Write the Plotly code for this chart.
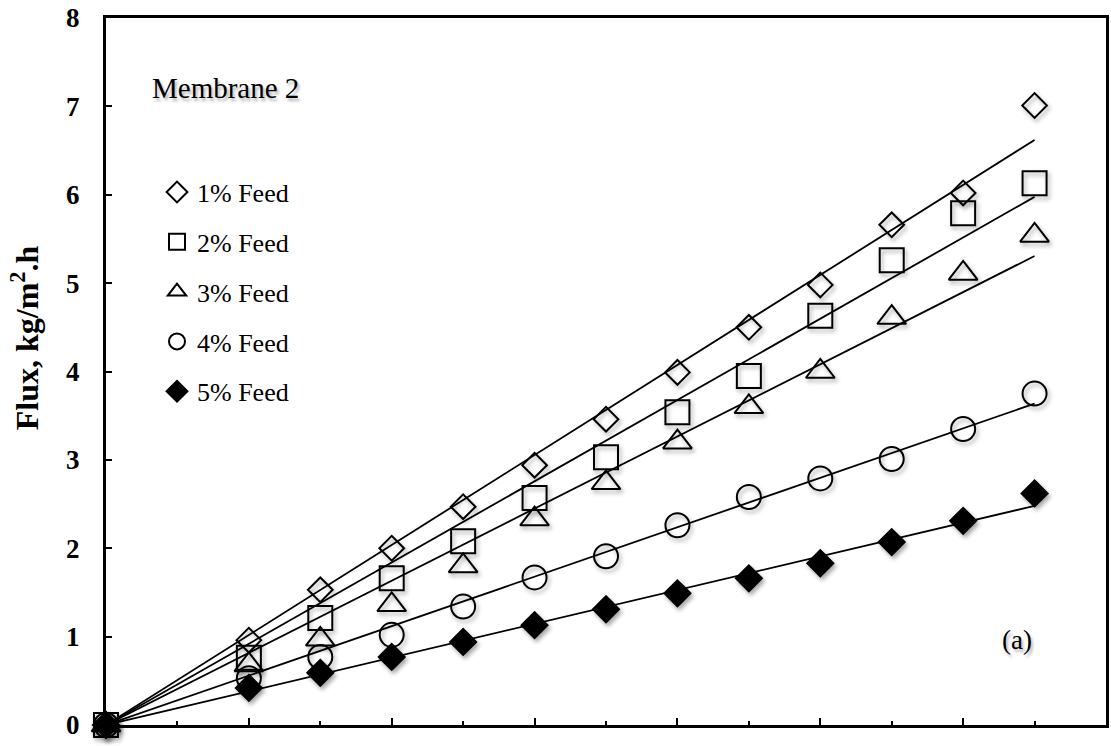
import plotly.graph_objects as go

# Feed-pressure steps (x) and permeate flux readings for each feed concentration
x_vals = [0, 2, 3, 4, 5, 6, 7, 8, 9, 10, 11, 12, 13]
flux_1 = [0, 0.96, 1.53, 2.00, 2.47, 2.94, 3.46, 3.99, 4.50, 4.98, 5.66, 6.02, 7.01]
flux_2 = [0, 0.76, 1.21, 1.66, 2.08, 2.57, 3.03, 3.54, 3.95, 4.63, 5.26, 5.79, 6.13]
flux_3 = [0, 0.68, 0.97, 1.36, 1.80, 2.33, 2.74, 3.20, 3.60, 4.00, 4.61, 5.11, 5.54]
flux_4 = [0, 0.53, 0.77, 1.02, 1.34, 1.67, 1.91, 2.26, 2.58, 2.79, 3.01, 3.35, 3.75]
flux_5 = [0, 0.42, 0.59, 0.77, 0.94, 1.13, 1.31, 1.49, 1.66, 1.83, 2.07, 2.31, 2.62]

series_names = ["1% Feed", "2% Feed", "3% Feed", "4% Feed", "5% Feed"]
series_values = [flux_1, flux_2, flux_3, flux_4, flux_5]
symbols = ["diamond-open", "square-open", "triangle-up-open", "circle-open", "diamond"]
sizes = [19, 24, 25, 24, 20]

SERIF = "Liberation Serif"

fig = go.Figure()

# Linear trendlines forced through the origin (least squares, zero intercept)
for ys in series_values:
    slope = sum(x * y for x, y in zip(x_vals, ys)) / sum(x * x for x in x_vals)
    x_end = x_vals[-1]
    fig.add_trace(go.Scatter(
        x=[0, x_end], y=[0, slope * x_end], mode="lines",
        line=dict(color="black", width=1.8), showlegend=False, hoverinfo="skip",
        cliponaxis=False,
    ))

# Measured points
for name, ys, sym, sz in zip(series_names, series_values, symbols, sizes):
    fig.add_trace(go.Scatter(
        x=x_vals, y=ys, mode="markers", name=name,
        marker=dict(symbol=sym, size=sz, color="black",
                    line=dict(color="black", width=2)),
        cliponaxis=False, legendgroup=name,
    ))

fig.update_layout(
    width=1111, height=746,
    margin=dict(l=106, r=2, t=18, b=21),
    paper_bgcolor="white", plot_bgcolor="white",
    showlegend=True,
    legend=dict(
        x=0.051, y=0.787, xanchor="left", yanchor="top",
        font=dict(family=SERIF, size=26, color="black"),
        bgcolor="rgba(0,0,0,0)", tracegroupgap=13,
        itemwidth=30,
    ),
    xaxis=dict(
        range=[0, 14], showgrid=False, zeroline=False,
        showline=True, linecolor="black", linewidth=3, mirror=True,
        showticklabels=False,
        ticks="inside", tick0=0, dtick=2, ticklen=7, tickwidth=2, tickcolor="black",
        minor=dict(ticks="inside", dtick=1, ticklen=4, tickwidth=2, tickcolor="black"),
    ),
    yaxis=dict(
        range=[0, 8], showgrid=False, zeroline=False,
        showline=True, linecolor="black", linewidth=3, mirror=True,
        ticks="inside", dtick=1, ticklen=6, tickwidth=2, tickcolor="black",
        ticklabelstandoff=18,
        tickfont=dict(family=SERIF, size=27, color="black", weight="bold"),
    ),
    annotations=[
        dict(text="Flux, kg/m<sup>2</sup>.h", xref="paper", yref="paper",
             x=-0.081, y=0.547, xanchor="center", yanchor="middle", textangle=-90,
             showarrow=False,
             font=dict(family=SERIF, size=32, color="black", weight="bold")),
        dict(text="Membrane 2", xref="paper", yref="paper",
             x=0.044, y=0.901, xanchor="left", yanchor="middle", showarrow=False,
             font=dict(family=SERIF, size=29, color="black",
                       shadow="2px 3px 3px rgba(0,0,0,0.3)")),
        dict(text="(a)", xref="paper", yref="paper",
             x=0.911, y=0.12, xanchor="center", yanchor="middle", showarrow=False,
             font=dict(family=SERIF, size=27, color="black",
                       shadow="2px 3px 3px rgba(0,0,0,0.3)")),
    ],
)

# Soft drop shadow under the plotted markers
shadow_js = """
document.querySelectorAll('.scatterlayer .points path').forEach(function(p){
  p.style.filter = 'drop-shadow(2px 3px 2px rgba(0,0,0,0.35))';
});
"""

fig.write_html("out.html", post_script=shadow_js)
